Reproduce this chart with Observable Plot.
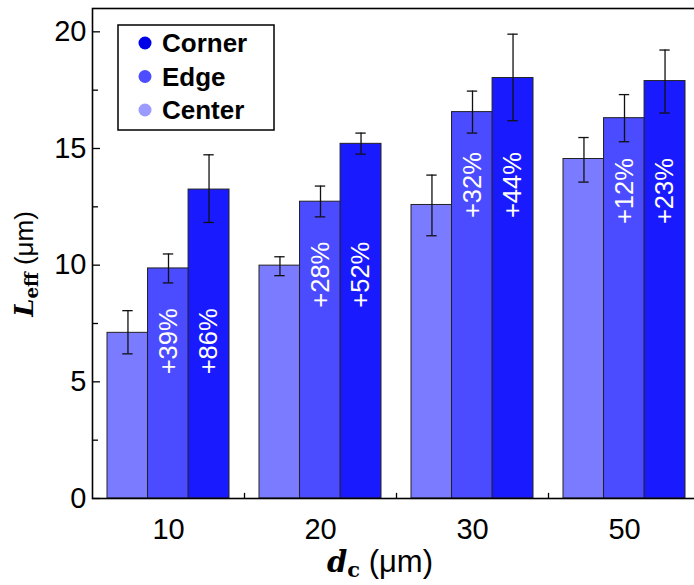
<!DOCTYPE html>
<html><head><meta charset="utf-8">
<script src="https://cdn.jsdelivr.net/npm/d3@7"></script>
<script src="https://cdn.jsdelivr.net/npm/@observablehq/plot@0.6"></script>
<style>html,body{margin:0;padding:0;background:#fff;overflow:hidden}</style>
</head><body><div id="chart"></div>
<script>
// ---- data ----
const groups = ["10", "20", "30", "50"];
const series = ["Center", "Edge", "Corner"];
const centerMean = [7.1, 9.98, 12.58, 14.55];
const centerHi   = [8.05, 10.36, 13.86, 15.47];
const centerLo   = [6.2, 9.55, 11.26, 13.56];
const edgeMean   = [9.86, 12.72, 16.56, 16.3];
const edgeHi     = [10.48, 13.39, 17.46, 17.31];
const edgeLo     = [9.24, 12.07, 15.66, 15.29];
const cornerMean = [13.24, 15.2, 18.02, 17.89];
const cornerHi   = [14.73, 15.66, 19.9, 19.22];
const cornerLo   = [11.83, 14.76, 16.19, 16.52];
const edgeLabels   = ["+39%", "+28%", "+32%", "+12%"];
const cornerLabels = ["+86%", "+52%", "+44%", "+23%"];
const yMajorTicks = [0, 5, 10, 15, 20];
const yMinorTicks = [2.5, 7.5, 12.5, 17.5];
const legendOrder = ["Corner", "Edge", "Center"];

const barColors = {Center: "#7b7bff", Edge: "#4b4bff", Corner: "#1a1aff"};
const legendColors = {Corner: "#0000e8", Edge: "#4d4dff", Center: "#9a9aff"};

const seriesData = {
  Center: {mean: centerMean, hi: centerHi, lo: centerLo, labels: null},
  Edge: {mean: edgeMean, hi: edgeHi, lo: edgeLo, labels: edgeLabels},
  Corner: {mean: cornerMean, hi: cornerHi, lo: cornerLo, labels: cornerLabels}
};
const table = [];
series.forEach(s => groups.forEach((g, i) => {
  const d = seriesData[s];
  table.push({group: g, series: s, mean: d.mean[i], hi: d.hi[i], lo: d.lo[i],
              label: d.labels ? d.labels[i] : null, edge: edgeMean[i]});
}));

// ---- layout ----
const W = 694, H = 585, mL = 92, mR = 0, mT = 8, mB = 87;
const pi = 0.2, po = 0.08, align = 0.61;
const plotW = W - mL - mR;
const step = plotW / (groups.length - pi + 2 * po);
const bw = step * (1 - pi);
const barW = bw / 3;

const marks = [];
series.forEach((s, j) => {
  const sub = table.filter(d => d.series === s);
  marks.push(Plot.barY(sub, {x: "group", y: "mean", fill: barColors[s], stroke: "#222", strokeWidth: 1,
    insetLeft: j * barW, insetRight: (2 - j) * barW}));
});
series.forEach((s, j) => {
  const sub = table.filter(d => d.series === s);
  const dx = (j - 1) * barW;
  marks.push(Plot.ruleX(sub, {x: "group", y1: "lo", y2: "hi", dx, stroke: "#111", strokeWidth: 1.3}));
  marks.push(Plot.tickY(sub, {x: "group", y: "hi", dx, stroke: "#111", strokeWidth: 1.3, insetLeft: bw / 2 - 5, insetRight: bw / 2 - 5}));
  marks.push(Plot.tickY(sub, {x: "group", y: "lo", dx, stroke: "#111", strokeWidth: 1.3, insetLeft: bw / 2 - 5, insetRight: bw / 2 - 5}));
  if (s !== "Center") {
    marks.push(Plot.text(sub, {x: "group", y: "edge", text: "label", rotate: -90, textAnchor: "end",
      dx, dy: 40, fill: "white", fontSize: 25.5}));
  }
});
marks.push(Plot.tickY(yMajorTicks, {y: d => d, stroke: "black", strokeWidth: 1.3, insetRight: plotW - 8}));
marks.push(Plot.tickY(yMinorTicks, {y: d => d, stroke: "black", strokeWidth: 1.3, insetRight: plotW - 6}));
marks.push(Plot.ruleX(groups.slice(0, -1), {x: d => d, dx: step / 2, y1: 0, y2: 0.22, stroke: "black", strokeWidth: 1.3}));
marks.push(Plot.frame({stroke: "black", strokeWidth: 1.6, insetRight: -6}));
marks.push(Plot.axisY({ticks: yMajorTicks, tickSize: 0, tickPadding: 6, fontSize: 29, label: null}));
marks.push(Plot.axisX({tickSize: 0, tickPadding: 20, fontSize: 29, label: null}));

const chart = Plot.plot({
  width: W, height: H, marginLeft: mL, marginRight: mR, marginTop: mT, marginBottom: mB,
  style: {fontFamily: "'Liberation Sans', Arial, sans-serif", fontSize: "29px", color: "black", background: "white"},
  x: {domain: groups, paddingInner: pi, paddingOuter: po, align},
  y: {domain: [0, 21]},
  marks
});
document.getElementById("chart").appendChild(chart);

// ---- titles & legend ----
const svg = d3.select(chart);
const serif = "'DejaVu Serif', 'Liberation Serif', serif";
const sans = "'Liberation Sans', Arial, sans-serif";

const yt = svg.append("text").attr("transform", "translate(33,264) rotate(-90)")
  .attr("text-anchor", "middle").attr("fill", "black");
yt.append("tspan").attr("font-family", serif).attr("font-weight", "bold").attr("font-style", "italic").attr("font-size", 26).text("L");
yt.append("tspan").attr("font-family", serif).attr("font-weight", "bold").attr("font-size", 18).attr("dy", 5).text("eff");
yt.append("tspan").attr("font-family", sans).attr("font-size", 26).attr("dy", -5).text(" (μm)");

const xt = svg.append("text").attr("x", 380).attr("y", 572)
  .attr("text-anchor", "middle").attr("fill", "black");
xt.append("tspan").attr("font-family", serif).attr("font-weight", "bold").attr("font-style", "italic").attr("font-size", 29).text("d");
xt.append("tspan").attr("font-family", serif).attr("font-weight", "bold").attr("font-size", 21).attr("dy", 5).text("c");
xt.append("tspan").attr("font-family", sans).attr("font-size", 31).attr("dy", -5).text(" (μm)");

const lg = svg.append("g");
lg.append("rect").attr("x", 118).attr("y", 25).attr("width", 156).attr("height", 105)
  .attr("fill", "white").attr("stroke", "black").attr("stroke-width", 1.5);
legendOrder.forEach((s, i) => {
  const cy = 43 + i * 33.5;
  lg.append("circle").attr("cx", 145).attr("cy", cy).attr("r", 6.5).attr("fill", legendColors[s]);
  lg.append("text").attr("x", 162).attr("y", cy + 9).attr("text-anchor", "start")
    .attr("font-family", sans).attr("font-weight", "bold")
    .attr("font-size", 26).attr("fill", "black").text(s);
});
</script>
</body></html>
